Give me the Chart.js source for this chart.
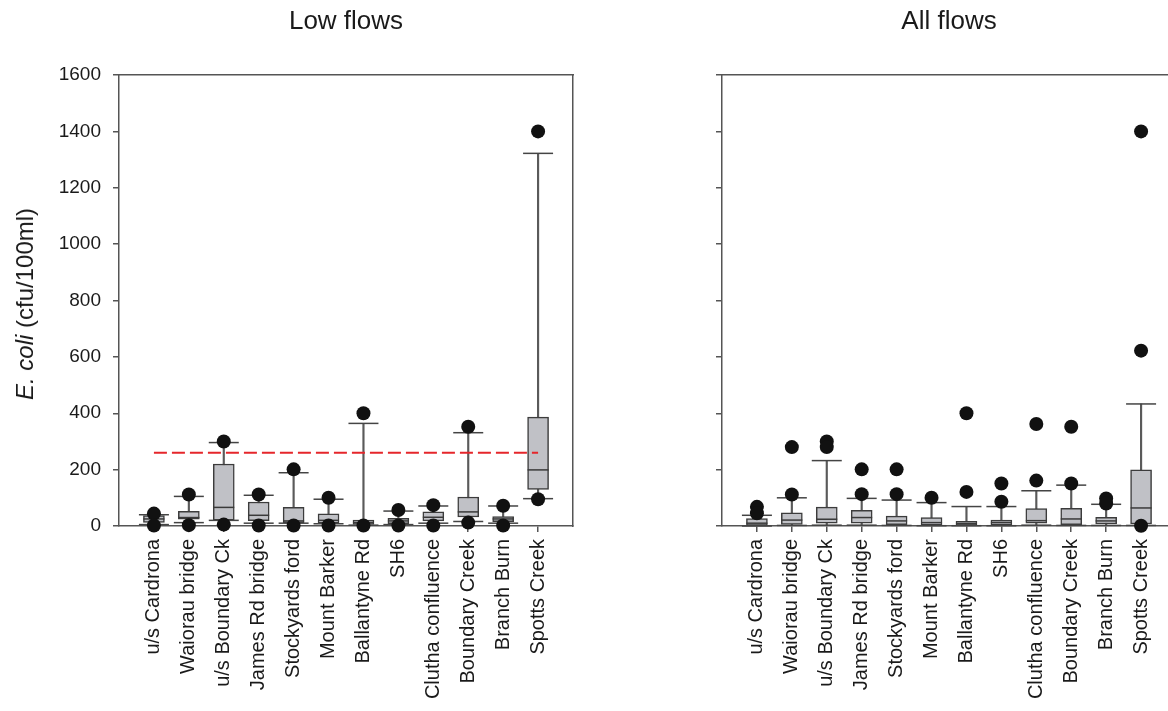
<!DOCTYPE html>
<html><head><meta charset="utf-8">
<script src="https://cdn.jsdelivr.net/npm/chart.js@4.4.0/dist/chart.umd.min.js"></script>
<style>
html,body{margin:0;padding:0;background:#fff;overflow:hidden;width:1168px;height:711px;position:relative;}
#c1{position:absolute;left:0;top:0;}
#c2{position:absolute;left:603px;top:0;}
#ylab{position:absolute;left:25px;top:304px;transform:translate(-50%,-50%) rotate(-90deg);font:24px 'Liberation Sans',Arial,sans-serif;white-space:nowrap;color:#1a1a1a;}
</style></head><body>
<canvas id="c1" width="590" height="711"></canvas>
<canvas id="c2" width="590" height="711"></canvas>
<div id="ylab"><i>E. coli</i> (cfu/100ml)</div>
<script>
const sites = ['u/s Cardrona','Waiorau bridge','u/s Boundary Ck','James Rd bridge','Stockyards ford','Mount Barker','Ballantyne Rd','SH6','Clutha confluence','Boundary Creek','Branch Burn','Spotts Creek'];
const yTickMin = 0, yTickMax = 1600, yTickStep = 200;
const guideline = 260;

// Low flows
const lowWhiskerLow  = [5, 12, 20, 10, 10, 8, 3, 5, 10, 16, 10, 97];
const lowQ1          = [13, 24, 21, 19, 12, 10, 6, 8, 18, 32, 15, 130];
const lowMedian      = [25, 30, 66, 38, 18, 20, 12, 18, 31, 50, 25, 199];
const lowQ3          = [37, 52, 220, 85, 66, 43, 21, 27, 50, 103, 33, 386];
const lowWhiskerHigh = [40, 105, 296, 109, 189, 95, 364, 53, 71, 331, 71, 1322];
const lowOutliers    = [[44,2],[112,3],[300,5],[112,2],[201,2],[100,2],[400,2],[57,2],[74,2],[352,12],[72,2],[1400,95]];

// All flows
const allWhiskerLow  = [0, 2, 3, 3, 2, 1, 1, 1, 3, 2, 2, 2];
const allQ1          = [2, 6, 10, 10, 5, 3, 2, 3, 10, 5, 7, 7];
const allMedian      = [10, 21, 24, 30, 18, 12, 8, 12, 19, 25, 18, 64];
const allQ3          = [26, 47, 67, 56, 35, 30, 17, 21, 62, 63, 31, 199];
const allWhiskerHigh = [38, 100, 232, 98, 92, 83, 69, 69, 125, 145, 77, 433];
const allOutliers    = [[68,45],[280,112],[300,280],[201,113],[201,113],[100],[400,121],[151,86],[362,161],[352,151],[98,80],[1400,622,1]];

const FONT = "'Liberation Sans', Arial, sans-serif";
const AX = '#555';

function build(id, title, lo, q1, med, q3, hi, outl, showY, guide) {
  const xs = sites.map((s, i) => i + 1);
  const datasets = [];
  const common = {xAxisID: 'x', yAxisID: 'y', clip: false};
  datasets.push(Object.assign({type: 'scatter', label: 'outliers',
    data: outl.flatMap((arr, i) => arr.map(v => ({x: xs[i], y: v}))),
    pointRadius: 7, pointHoverRadius: 7, pointBackgroundColor: '#111', pointBorderColor: '#111', pointBorderWidth: 0}, common));
  if (guide !== null) {
    datasets.push(Object.assign({type: 'line', label: 'guideline',
      data: [{x: xs[0], y: guide}, {x: xs[xs.length - 1], y: guide}],
      borderColor: '#e5262b', borderWidth: 2, borderDash: [13, 5], pointRadius: 0, fill: false}, common));
  }
  datasets.push(Object.assign({type: 'scatter', label: 'caps',
    data: xs.flatMap((x, i) => [{x, y: hi[i]}, {x, y: lo[i]}]),
    pointStyle: 'line', pointRadius: 15, pointHoverRadius: 15, borderColor: '#444', pointBorderColor: '#444', pointBorderWidth: 1.5}, common));
  datasets.push(Object.assign({type: 'scatter', label: 'median',
    data: xs.map((x, i) => ({x, y: med[i]})),
    pointStyle: 'line', pointRadius: 10.5, pointHoverRadius: 10.5, borderColor: '#3a3a3a', pointBorderColor: '#3a3a3a', pointBorderWidth: 1.5}, common));
  datasets.push(Object.assign({type: 'bar', label: 'box',
    data: xs.map((x, i) => ({x, y: [q1[i], q3[i]]})),
    backgroundColor: '#c0c1c6', borderColor: '#3c3c3c', borderWidth: 1.5, borderSkipped: false,
    barThickness: 21, grouped: false}, common));
  datasets.push(Object.assign({type: 'bar', label: 'whisker',
    data: xs.map((x, i) => ({x, y: [lo[i], hi[i]]})),
    backgroundColor: '#5a5a5a', borderWidth: 0, barThickness: 1.5, grouped: false}, common));

  return new Chart(document.getElementById(id), {
    type: 'bar',
    data: {datasets},
    options: {
      responsive: false, animation: false, events: [],
      layout: {padding: 0},
      plugins: {legend: {display: false}, tooltip: {enabled: false}, title: {display: false}},
      scales: {
        x: {type: 'linear', position: 'bottom', min: 0, max: sites.length + 1, offset: false,
          afterBuildTicks: s => { s.ticks = xs.map(v => ({value: v})); },
          afterFit: s => { s.height = 185; },
          grid: {display: true, offset: false, drawOnChartArea: false, drawTicks: true, tickLength: 6, color: AX, lineWidth: 1.5},
          border: {display: true, color: AX, width: 1.5},
          ticks: {autoSkip: false, maxRotation: 90, minRotation: 90, padding: 7, color: '#1a1a1a',
            font: {family: FONT, size: 20}, callback: v => sites[v - 1]}
        },
        y: {type: 'linear', position: 'left', min: yTickMin, max: yTickMax,
          afterFit: s => { s.width = 119; },
          grid: {display: true, drawOnChartArea: false, drawTicks: true, tickLength: 6, color: AX, lineWidth: 1.5},
          border: {display: true, color: AX, width: 1.5},
          ticks: {display: showY, stepSize: yTickStep, padding: 12, color: '#1a1a1a', font: {family: FONT, size: 19},
            callback: v => String(v)}
        },
        x2: {type: 'linear', position: 'top', min: 0, max: sites.length + 1,
          afterFit: s => { s.height = 75; },
          grid: {display: false, drawTicks: false},
          border: {display: true, color: AX, width: 1.5},
          ticks: {display: false},
          title: {display: true, text: title, color: '#1a1a1a', font: {family: FONT, size: 26}, padding: {top: 6, bottom: 0}}
        },
        y2: {type: 'linear', position: 'right', min: yTickMin, max: yTickMax,
          afterFit: s => { s.width = 17; },
          grid: {display: false, drawTicks: false},
          border: {display: true, color: AX, width: 1.5},
          ticks: {display: false}
        }
      }
    }
  });
}

build('c1', 'Low flows', lowWhiskerLow, lowQ1, lowMedian, lowQ3, lowWhiskerHigh, lowOutliers, true, guideline);
build('c2', 'All flows', allWhiskerLow, allQ1, allMedian, allQ3, allWhiskerHigh, allOutliers, false, null);
</script>
</body></html>
